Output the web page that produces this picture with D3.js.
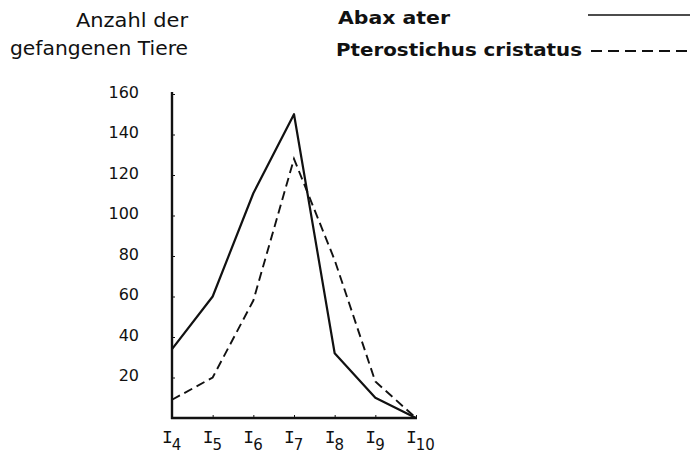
<!DOCTYPE html>
<html>
<head>
<meta charset="utf-8">
<script src="https://cdn.jsdelivr.net/npm/d3@7"></script>
<style>
  html, body { margin: 0; padding: 0; background: #fff; }
  #chart { width: 693px; height: 461px; }
</style>
</head>
<body>
<div id="chart"></div>
<script>
// Data
const periods = ['4', '5', '6', '7', '8', '9', '10'];
const abaxAter = [34, 60, 111, 150, 32, 10, 0];
const pterostichus = [9, 20, 58, 128, 78, 18, 0];
const yTicks = [20, 40, 60, 80, 100, 120, 140, 160];

const width = 693;
const height = 461;
const ink = '#111';

let svg;

/**
 * Draw the whole chart
 */
function drawChart() {
  svg = d3.select('#chart')
    .append('svg')
    .attr('width', width)
    .attr('height', height);

  const x = d3.scalePoint()
    .domain(periods)
    .range([172, 416]);

  const y = d3.scaleLinear()
    .domain([0, 160])
    .range([418, 94]);

  // Y axis
  const yAxis = svg.append('g')
    .attr('transform', 'translate(172,0)')
    .call(d3.axisRight(y).tickValues(yTicks).tickSize(3).tickFormat(''));
  yAxis.select('.domain').attr('d', 'M0,92V419').style('stroke', ink).style('stroke-width', 2.4);
  yAxis.selectAll('.tick line').style('stroke', ink).style('stroke-width', 1);

  // Y tick labels
  svg.append('g')
    .selectAll('text')
    .data(yTicks)
    .enter()
    .append('text')
    .attr('x', 139)
    .attr('y', d => y(d) - 2)
    .attr('dy', '0.35em')
    .attr('text-anchor', 'end')
    .style('font-family', 'DejaVu Sans, sans-serif')
    .style('font-size', '16px')
    .style('fill', ink)
    .text(d => d);

  // X axis
  const xAxis = svg.append('g')
    .attr('transform', 'translate(0,418)')
    .call(d3.axisTop(x).tickSize(3).tickFormat(''));
  xAxis.select('.domain').attr('d', 'M171,0H417').style('stroke', ink).style('stroke-width', 2.4);
  xAxis.selectAll('.tick line').style('stroke', ink).style('stroke-width', 1);

  // X labels: I with subscript
  const xl = svg.append('g')
    .selectAll('text')
    .data(periods)
    .enter()
    .append('text')
    .attr('x', d => x(d) - 10)
    .attr('y', 443)
    .style('fill', ink);
  xl.append('tspan')
    .style('font-family', 'Liberation Mono, monospace')
    .style('font-size', '18px')
    .text('I');
  xl.append('tspan')
    .attr('dx', -1)
    .attr('dy', 7)
    .style('font-family', 'DejaVu Sans, sans-serif')
    .style('font-size', '15px')
    .text(d => d);

  // Lines
  const line = d3.line()
    .x((d, i) => x(periods[i]))
    .y(d => y(d));

  svg.append('path')
    .datum(abaxAter)
    .attr('d', line)
    .style('fill', 'none')
    .style('stroke', ink)
    .style('stroke-width', 2.2)
    .style('stroke-linejoin', 'round');

  svg.append('path')
    .datum(pterostichus)
    .attr('d', line)
    .style('fill', 'none')
    .style('stroke', ink)
    .style('stroke-width', 1.9)
    .style('stroke-dasharray', '9,5');

  drawTitles();
}

/**
 * Axis title and legend at the top
 */
function drawTitles() {
  const title = svg.append('g')
    .style('font-family', 'DejaVu Sans, sans-serif')
    .style('font-size', '19px')
    .style('fill', ink);
  title.append('text')
    .attr('x', 188).attr('y', 27)
    .attr('text-anchor', 'end')
    .attr('textLength', 112).attr('lengthAdjust', 'spacingAndGlyphs')
    .text('Anzahl der');
  title.append('text')
    .attr('x', 188).attr('y', 55)
    .attr('text-anchor', 'end')
    .attr('textLength', 178).attr('lengthAdjust', 'spacingAndGlyphs')
    .text('gefangenen Tiere');

  const legend = svg.append('g')
    .style('font-family', 'DejaVu Sans, sans-serif')
    .style('font-weight', 'bold')
    .style('font-size', '18px')
    .style('fill', ink);
  legend.append('text')
    .attr('x', 338).attr('y', 24)
    .attr('textLength', 112).attr('lengthAdjust', 'spacingAndGlyphs')
    .text('Abax ater');
  legend.append('text')
    .attr('x', 336).attr('y', 56)
    .attr('textLength', 246).attr('lengthAdjust', 'spacingAndGlyphs')
    .text('Pterostichus cristatus');

  svg.append('line')
    .attr('x1', 588).attr('x2', 690).attr('y1', 15).attr('y2', 15)
    .style('stroke', ink).style('stroke-width', 1.5);
  svg.append('line')
    .attr('x1', 591).attr('x2', 690).attr('y1', 51).attr('y2', 51)
    .style('stroke', ink).style('stroke-width', 1.8)
    .style('stroke-dasharray', '11,6');
}

document.addEventListener('DOMContentLoaded', drawChart);
</script>
</body>
</html>
